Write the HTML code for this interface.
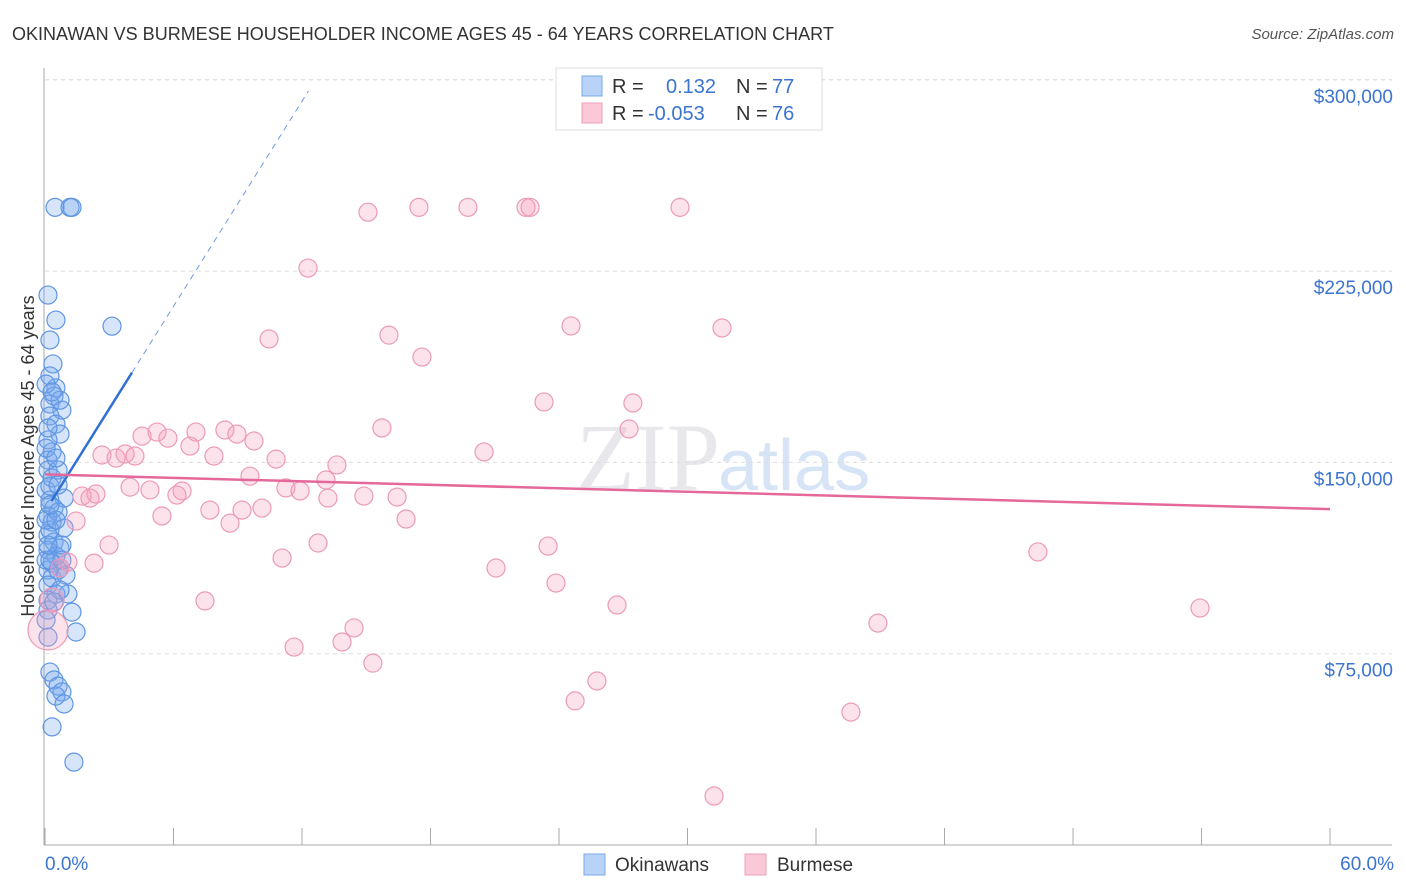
<!DOCTYPE html>
<html><head><meta charset="utf-8"><style>
body{margin:0;background:#fff;font-family:"Liberation Sans",sans-serif}
#wrap{position:relative;width:1406px;height:892px;overflow:hidden}
</style></head><body>
<div id="wrap">
<svg id="svg" width="1406" height="892">
<text x="12" y="40" font-size="18" fill="#333">OKINAWAN VS BURMESE HOUSEHOLDER INCOME AGES 45 - 64 YEARS CORRELATION CHART</text>
<text x="1394" y="39" font-size="15" fill="#555" font-style="italic" text-anchor="end">Source: ZipAtlas.com</text>
<text x="720" y="490" font-size="96" fill="#e8e8ec" font-family="Liberation Serif" text-anchor="end">ZIP</text>
<text x="718" y="490" font-size="72" fill="#d6e4f5">atlas</text>
<text transform="translate(34,456) rotate(-90)" font-size="18" fill="#333" text-anchor="middle">Householder Income Ages 45 - 64 years</text>
<g id="grid"></g><g id="pts"></g><g id="lines"></g>
<g>
<rect x="556" y="68" width="266" height="62" fill="#fff" stroke="#ddd"/>
<rect x="582" y="76" width="20" height="20" fill="#b8d3f7" stroke="#7aa9e8"/>
<rect x="582" y="103" width="20" height="20" fill="#fbc8d8" stroke="#eba0bb"/>
<text x="612" y="93" font-size="20" fill="#333">R =</text><text x="666" y="93" font-size="20" fill="#3b74d1">0.132</text>
<text x="736" y="93" font-size="20" fill="#333">N =</text><text x="772" y="93" font-size="20" fill="#3b74d1">77</text>
<text x="612" y="120" font-size="20" fill="#333">R =</text><text x="648" y="120" font-size="20" fill="#3b74d1">-0.053</text>
<text x="736" y="120" font-size="20" fill="#333">N =</text><text x="772" y="120" font-size="20" fill="#3b74d1">76</text>
</g>
<g>
<rect x="584" y="854" width="21" height="21" fill="#b8d3f7" stroke="#7aa9e8"/>
<text x="615" y="871" font-size="19" fill="#333">Okinawans</text>
<rect x="745" y="854" width="21" height="21" fill="#fbc8d8" stroke="#eba0bb"/>
<text x="777" y="871" font-size="19" fill="#333">Burmese</text>
</g>
</svg></div>
<script>
const xTicksPct=[0,6,12,18,24,30,36,42,48,54,60];
const yTicks=[75,150,225,300];
const yTickLabels=["$75,000","$150,000","$225,000","$300,000"];
const okiX=[0.47,1.17,1.26,0.14,0.51,3.13,0.23,0.37,0.23,0.51,0.42,0.23,0.79,0.23,0.51,0.70,0.14,0.33,0.14,0.14,0.33,0.89,0.23,0.42,0.14,0.33,0.89,0.14,0.42,0.70,0.14,0.51,0.33,0.14,0.33,0.14,0.51,1.07,0.14,1.26,1.45,0.14,0.23,0.42,0.61,0.79,0.51,0.89,0.33,1.35,0.61,0.05,0.23,0.79,0.05,0.70,0.05,0.61,0.23,0.05,0.51,0.14,0.70,0.05,0.33,0.61,0.98,0.14,0.70,0.05,0.42,0.23,0.79,0.14,0.51,0.23,0.61];
const okiY=[250,250,250,215.6,205.8,203.4,198,188.6,183.9,179.2,176,172.9,170.5,168.2,165,161.1,158.8,154.1,150.9,147,143.9,136,135.2,132.1,129,126.6,124.3,121.5,118.8,116.4,115.6,113.3,110.5,107.8,104.7,101.9,98.4,98.4,96,91.3,83.5,81.5,67.8,64.7,62.3,60,58.4,55.3,46.3,32.5,147,139.2,123.5,117.6,111.7,108.6,127.4,130.5,140.7,155.6,151.7,163.5,174.4,180.7,177.6,107.8,105.8,92.1,100,88.2,95.3,111.7,111.7,117.6,127.4,133.3,141.1];
const burX=[15.08,17.46,19.75,22.46,22.65,29.65,12.28,24.56,31.61,10.46,16.06,17.6,23.3,27.45,15.73,27.27,4.53,5.23,5.74,7.05,8.4,8.96,9.76,6.77,20.5,2.66,3.32,3.74,4.2,7.89,10.79,13.63,9.57,13.12,3.97,4.9,6.4,6.16,2.38,1.73,2.1,11.25,11.91,13.21,14.89,16.44,7.7,9.2,10.13,5.46,8.64,1.45,16.86,2.99,12.75,23.49,46.36,11.07,21.06,2.29,1.07,0.7,23.86,7.47,26.71,53.93,38.89,14.43,13.87,11.63,15.31,25.77,24.75,37.63,31.24,0.33,0.14];
const burY=[248.1,250,250,250,250,250,226.2,203.5,202.7,198.4,199.9,191.3,173.7,173.3,163.5,163.1,160.3,161.9,159.5,161.9,162.7,161.1,158.4,156.4,154.1,152.9,151.7,153.3,152.5,152.5,151.3,149,144.6,143.1,140.3,139.2,138.8,137.2,137.6,136.8,136,140,138.8,136,136.8,136.4,131.3,131.3,132.1,129,126.2,127,127.8,117.6,118.4,117.2,114.9,112.5,108.6,110.5,110.9,108.6,102.7,95.7,94.1,92.9,87,85.1,79.6,77.6,71.3,64.3,56.5,52.1,19.2,96,84.3];
const burR=[9,9,9,9,9,9,9,9,9,9,9,9,9,9,9,9,9,9,9,9,9,9,9,9,9,9,9,9,9,9,9,9,9,9,9,9,9,9,9,9,9,9,9,9,9,9,9,9,9,9,9,9,9,9,9,9,9,9,9,9,9,9,9,9,9,9,9,9,9,9,9,9,9,9,9,12,20];
const okiTrend={x0:0.3,x1:4.06,xd:12.3,b:130.8,m:13.4};
const burTrend={b:145.3,m:-0.227};
const NS="http://www.w3.org/2000/svg";
const X=v=>45+v*21.417, Y=v=>845-v/0.39206;
function mk(t,a,p){const e=document.createElementNS(NS,t);for(const k in a)e.setAttribute(k,a[k]);p.appendChild(e);return e;}
const grid=document.getElementById('grid'),pts=document.getElementById('pts'),lines=document.getElementById('lines');
yTicks.forEach((v,i)=>{const l=mk('line',{x1:45,x2:1392,y1:Y(v),y2:Y(v),stroke:'#ddd','stroke-dasharray':'4,4'},grid);

const t=mk('text',{x:1393,y:Y(v)+23,'font-size':19,fill:'#3b74d1','text-anchor':'end'},grid);t.textContent=yTickLabels[i];
});
mk('line',{x1:45,x2:1392,y1:Y(300),y2:Y(300),stroke:'#ddd','stroke-dasharray':'4,4'},grid);
const ax=mk('line',{x1:44,x2:44,y1:68,y2:845,stroke:'#aaa'},grid);
const bx=mk('line',{x1:44,x2:1392,y1:845,y2:845,stroke:'#aaa'},grid);
xTicksPct.forEach(v=>{const t=mk('line',{x1:X(v),x2:X(v),y1:828,y2:845,stroke:'#aaa'},grid);});
let t1=mk('text',{x:45,y:870,'font-size':19,fill:'#3b74d1'},grid);t1.textContent='0.0%';
let t2=mk('text',{x:1394,y:870,'font-size':19,fill:'#3b74d1','text-anchor':'end'},grid);t2.textContent='60.0%';
okiX.forEach((v,i)=>{const c=mk('circle',{cx:X(v),cy:Y(okiY[i]),r:9,fill:'rgba(120,170,240,0.3)',stroke:'#5f95e2','stroke-width':1.2},pts);
});
burX.forEach((v,i)=>{const c=mk('circle',{cx:X(v),cy:Y(burY[i]),r:burR[i],fill:'rgba(245,160,190,0.3)',stroke:'#ec9ab8','stroke-width':1.2},pts);
});
const o=okiTrend;
let l1=mk('line',{x1:X(o.x0),y1:Y(o.b+o.m*o.x0),x2:X(o.x1),y2:Y(o.b+o.m*o.x1),stroke:'#2f6fd6','stroke-width':2.5},lines);

let l2=mk('line',{x1:X(o.x1),y1:Y(o.b+o.m*o.x1),x2:X(o.xd),y2:Y(o.b+o.m*o.xd),stroke:'#6d9be0','stroke-width':1,'stroke-dasharray':'6,5'},lines);

let l3=mk('line',{x1:X(0),y1:Y(burTrend.b),x2:X(60),y2:Y(burTrend.b+burTrend.m*60),stroke:'#e5689a','stroke-width':2.5},lines);

</script>
</body></html>
